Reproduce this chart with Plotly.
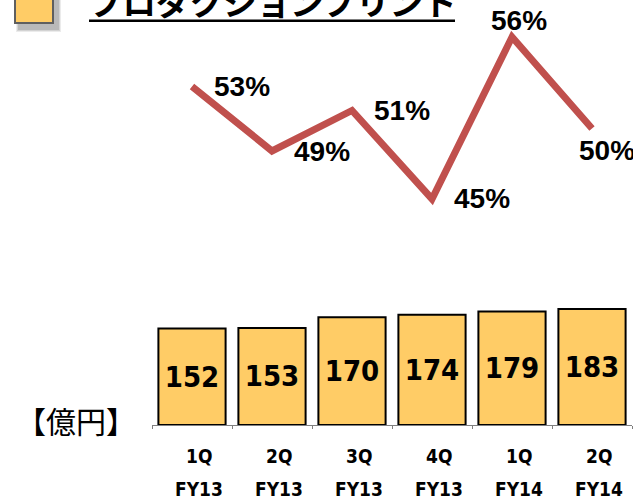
import plotly.graph_objects as go

# ---- data ----
categories = ["1Q FY13", "2Q FY13", "3Q FY13", "4Q FY13", "1Q FY14", "2Q FY14"]
quarters = ["1Q", "2Q", "3Q", "4Q", "1Q", "2Q"]
fiscal_years = ["FY13", "FY13", "FY13", "FY13", "FY14", "FY14"]
sales_oku_yen = [152, 153, 170, 174, 179, 183]
ratio_pct = [52.9, 48.6, 51.3, 45.4, 56.2, 50.1]
ratio_labels = ["53%", "49%", "51%", "45%", "56%", "50%"]
title_text = "プロダクションプリント"
unit_text = "【億円】"

# ---- styling ----
BAR_COLOR = "#FFCC66"
LINE_COLOR = "#C0504D"
NUM_FONT = "DejaVu Sans Condensed, DejaVu Sans, sans-serif"
PCT_FONT = "Liberation Sans, Arial, sans-serif"
CJK_FONT = "Noto Sans CJK JP, sans-serif"
label_shifts = [(50, 0), (50, -1), (50, 0), (50, 0), (7, 17), (15, -22)]

fig = go.Figure()

fig.add_trace(go.Bar(
    x=categories, y=sales_oku_yen,
    marker=dict(color=BAR_COLOR, line=dict(color="black", width=2)),
    text=[str(v) for v in sales_oku_yen],
    textposition="inside", insidetextanchor="middle",
    textfont=dict(family=NUM_FONT, size=29, color="black", weight="bold"),
    textangle=0,
    yaxis="y", showlegend=False,
))

fig.add_trace(go.Scatter(
    x=categories, y=ratio_pct, mode="lines",
    line=dict(color=LINE_COLOR, width=7),
    yaxis="y2", cliponaxis=False, showlegend=False,
))

annotations = []
for c, v, lab, (dx, dy) in zip(categories, ratio_pct, ratio_labels, label_shifts):
    annotations.append(dict(
        x=c, y=v, xref="x", yref="y2", text=f"<b>{lab}</b>", showarrow=False,
        xanchor="center", yanchor="middle", xshift=dx, yshift=dy,
        font=dict(family=PCT_FONT, size=28, color="black"),
    ))

for c, q, fy in zip(categories, quarters, fiscal_years):
    annotations.append(dict(
        x=c, y=-0.072, xref="x", yref="paper", text=f"<b>{q}</b>", showarrow=False,
        xanchor="center", yanchor="middle", xshift=7,
        font=dict(family=NUM_FONT, size=19, color="black"),
    ))
    annotations.append(dict(
        x=c, y=-0.151, xref="x", yref="paper", text=f"<b>{fy}</b>", showarrow=False,
        xanchor="center", yanchor="middle", xshift=7,
        font=dict(family=NUM_FONT, size=19, color="black"),
    ))

annotations.append(dict(
    x=-0.158, y=0.0118, xref="paper", yref="paper", text=unit_text, showarrow=False,
    xanchor="center", yanchor="middle",
    font=dict(family=CJK_FONT, size=30, color="black"),
))
annotations.append(dict(
    x=-0.135, y=1.0, xref="paper", yref="paper", text=f"<b>{title_text}</b>",
    showarrow=False, xanchor="left", yanchor="middle",
    font=dict(family=CJK_FONT, size=33.5, color="black"),
))

shapes = []
# icon shadow (soft)
for i, op in enumerate([0.08, 0.1, 0.12]):
    g = 3 - i
    shapes.append(dict(
        type="rect", xref="paper", yref="paper", layer="above",
        x0=-0.2854 + (4 - g) / 480, x1=-0.20625 + (5 + g) / 480,
        y0=0.9459 - (6 + g) / 425, y1=1.1,
        line=dict(width=0), fillcolor=f"rgba(0,0,0,{op})",
    ))
shapes.append(dict(
    type="rect", xref="paper", yref="paper", layer="above",
    x0=-0.2854, x1=-0.20625, y0=0.9459, y1=1.1,
    line=dict(color="#5F5F5F", width=2), fillcolor=BAR_COLOR,
))
shapes.append(dict(
    type="line", xref="paper", yref="paper",
    x0=-0.13125, x1=0.63125, y0=0.9513, y1=0.9513,
    line=dict(color="black", width=2.5),
))

fig.update_layout(
    width=633, height=503,
    margin=dict(l=152, r=1, t=0, b=78),
    paper_bgcolor="white", plot_bgcolor="white",
    bargap=0.16,
    xaxis=dict(
        type="category", range=[-0.5, 5.5], showticklabels=False,
        showline=True, linecolor="#808080", linewidth=1,
        ticks="outside", ticklen=3, tickcolor="#808080", tickson="boundaries",
        showgrid=False, zeroline=False, fixedrange=True,
    ),
    yaxis=dict(domain=[0, 0.3], range=[0, 201], visible=False, fixedrange=True),
    yaxis2=dict(domain=[0.45, 1], range=[43.08, 58.67], visible=False,
                anchor="x", fixedrange=True),
    annotations=annotations,
    shapes=shapes,
    showlegend=False,
)

fig.write_html("out.html", config={"displayModeBar": False},
               post_script="document.body.style.margin='0';")
